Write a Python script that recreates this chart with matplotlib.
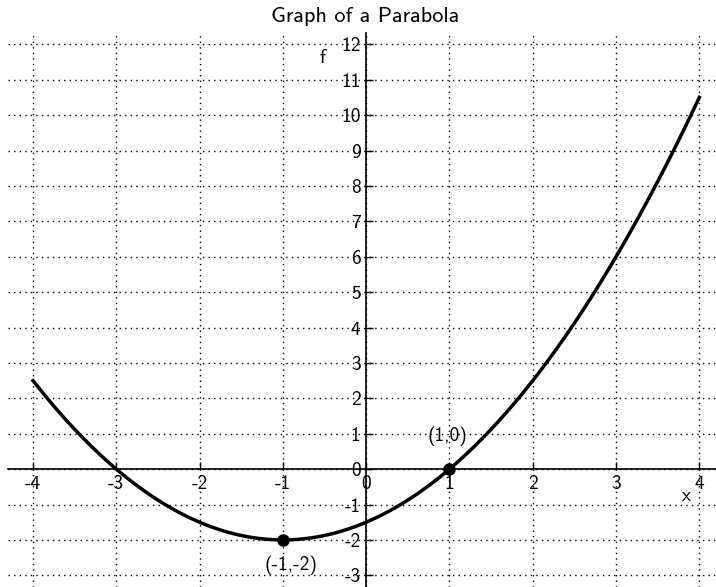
import numpy as np
import matplotlib.pyplot as plt

plt.rcParams['font.family'] = ['cmss10', 'DejaVu Sans']
plt.rcParams['axes.unicode_minus'] = False

# parabola f(x) = 0.5*(x+1)^2 - 2
a, h, k = 0.5, -1, -2
x_range = [-4, 4]
points_x = [-1, 1]
points_y = [-2, 0]
point_labels = ['(-1,-2)', '(1,0)']
x_ticks = [-4, -3, -2, -1, 0, 1, 2, 3, 4]
y_ticks = list(range(-3, 13))

x = np.linspace(x_range[0], x_range[1], 400)
y = a * (x - h) ** 2 + k

fig = plt.figure(figsize=(7.16, 5.87), dpi=100)
W, H = 716, 587
ax = fig.add_axes([8 / W, 0, 708 / W, (587 - 33) / H])

ax.plot(x, y, color='black', lw=2.5, zorder=3)
ax.plot(points_x, points_y, 'o', color='black', ms=8, zorder=4)
ax.text(points_x[0] + 0.1, points_y[0] - 0.45, point_labels[0], ha='center', va='top', fontsize=14)
ax.text(points_x[1] - 0.02, points_y[1] + 0.65, point_labels[1], ha='center', va='bottom', fontsize=14)

ax.set_xlim(-4.3, 4.2)
ax.set_ylim(-3.33, 12.32)

ax.spines['left'].set_position(('data', 0))
ax.spines['bottom'].set_position(('data', 0))
ax.spines['right'].set_visible(False)
ax.spines['top'].set_visible(False)
for s in ['left', 'bottom']:
    ax.spines[s].set_linewidth(1.2)

ax.set_xticks(x_ticks)
ax.set_yticks(y_ticks)
ax.tick_params(direction='in', length=5, width=1, labelsize=14, pad=4)
ax.grid(True, color='black', linestyle=(0, (1, 3)), linewidth=1)

ax.text(-0.52, 11.6, 'f', ha='center', va='center', fontsize=14)
ax.text(3.85, -0.75, 'x', ha='center', va='center', fontsize=14)

fig.text(365 / W, 1 - 17 / H, 'Graph of a Parabola', ha='center', va='center', fontsize=16)

fig.savefig('out.png', dpi=100)
